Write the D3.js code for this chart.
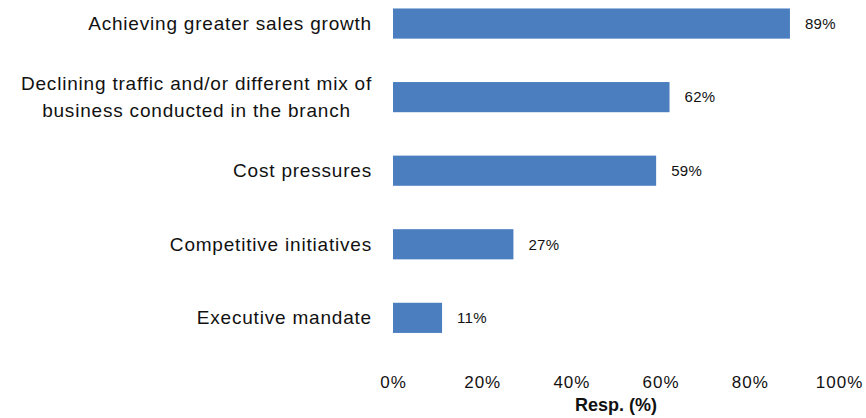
<!DOCTYPE html>
<html>
<head>
<meta charset="utf-8">
<script src="https://cdn.jsdelivr.net/npm/d3@7"></script>
<style>
  html, body { margin: 0; padding: 0; background: #fff; }
  svg { display: block; font-family: "Liberation Sans", Arial, sans-serif; }
</style>
</head>
<body>
<svg id="chart" width="866" height="418"></svg>
<script>
// Survey drivers, ranked by share of respondents
const categories = [
  "Achieving greater sales growth",
  "Declining traffic and/or different mix of business conducted in the branch",
  "Cost pressures",
  "Competitive initiatives",
  "Executive mandate"
];
const categoryLines = [
  ["Achieving greater sales growth"],
  ["Declining traffic and/or different mix of", "business conducted in the branch"],
  ["Cost pressures"],
  ["Competitive initiatives"],
  ["Executive mandate"]
];
const values = [89, 62, 59, 27, 11];
const tickValues = [0, 20, 40, 60, 80, 100];
const axisTitle = "Resp. (%)";

const svg = d3.select("#chart");

const x = d3.scaleLinear().domain([0, 100]).range([393, 839]);
const y = d3.scaleBand()
  .domain(categories)
  .range([-13.6, 355])
  .paddingInner(0.59)
  .paddingOuter(0.3);

// bars
svg.append("g").selectAll("rect")
  .data(categories)
  .join("rect")
  .attr("x", x(0))
  .attr("y", d => y(d))
  .attr("width", (d, i) => x(values[i]) - x(0))
  .attr("height", y.bandwidth())
  .attr("fill", "#4a7ebf");

// value labels
svg.append("g").selectAll("text")
  .data(categories)
  .join("text")
  .attr("x", (d, i) => x(values[i]) + 15)
  .attr("y", d => y(d) + y.bandwidth() / 2)
  .attr("dy", "0.35em")
  .attr("font-size", 15)
  .attr("letter-spacing", "0.3px")
  .attr("fill", "#111")
  .text((d, i) => values[i] + "%");

// category labels: block right-aligned, wrapped lines centred on each other
const labelRight = 372;
const lineGap = 27;
const lab = svg.append("g")
  .attr("font-size", 19)
  .attr("letter-spacing", "0.8px")
  .attr("fill", "#111");
categories.forEach((c, i) => {
  const lines = categoryLines[i];
  const t = lab.append("text").attr("text-anchor", "middle");
  const cy = y(c) + y.bandwidth() / 2;
  lines.forEach((ln, j) => {
    t.append("tspan")
      .attr("y", cy + (j - (lines.length - 1) / 2) * lineGap)
      .attr("dy", "0.35em")
      .text(ln);
  });
  let w = 0;
  t.selectAll("tspan").each(function () { w = Math.max(w, this.getComputedTextLength()); });
  t.selectAll("tspan").attr("x", labelRight - w / 2);
});

// x axis (labels only)
const xAxis = d3.axisBottom(x)
  .tickValues(tickValues)
  .tickFormat(d => d + "%")
  .tickSize(0)
  .tickPadding(0);
const gx = svg.append("g").attr("transform", "translate(0,376)").call(xAxis);
gx.select(".domain").remove();
gx.selectAll("text")
  .attr("font-size", 17)
  .attr("font-family", "Liberation Sans, Arial, sans-serif")
  .attr("letter-spacing", "1px")
  .attr("fill", "#111");

svg.append("text")
  .attr("x", (x(0) + x(100)) / 2)
  .attr("y", 411)
  .attr("text-anchor", "middle")
  .attr("font-size", 18)
  .attr("font-weight", "bold")
  .attr("fill", "#111")
  .text(axisTitle);
</script>
</body>
</html>
